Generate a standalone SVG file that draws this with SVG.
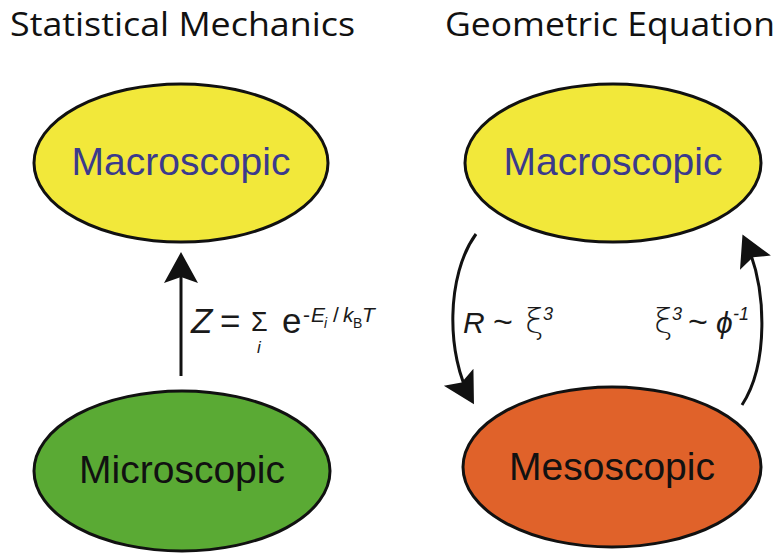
<svg xmlns="http://www.w3.org/2000/svg" width="780" height="554" viewBox="0 0 780 554">
<style>
.title{font-family:"Open Sans","Noto Sans",sans-serif;font-size:32px;fill:#111}
.node{stroke:#111;stroke-width:3}
.lbl{font-family:"Liberation Sans",Arial,sans-serif;font-size:39px;text-anchor:middle}
.eq{font-family:"Liberation Sans",Arial,sans-serif;fill:#1a1a1a}
.it{font-style:italic}
.xi{font-family:"DejaVu Sans","Liberation Sans",sans-serif;font-weight:200;font-size:34px}
.conn{fill:none;stroke:#111;stroke-width:3}
</style>
<defs>
<marker id="ah" markerUnits="userSpaceOnUse" markerWidth="40" markerHeight="40" viewBox="-30 -20 40 40" refX="0" refY="0" orient="auto" overflow="visible">
<path d="M6,0 L-25,-17 L-19,0 L-25,17 Z" fill="#111"/>
</marker>
</defs>
<rect width="780" height="554" fill="#fff"/>
<text class="title" x="10" y="36" textLength="345" lengthAdjust="spacingAndGlyphs">Statistical Mechanics</text>
<text class="title" x="445" y="36" textLength="330" lengthAdjust="spacingAndGlyphs">Geometric Equation</text>

<g id="connectors">
<line class="conn" x1="181" y1="376" x2="181" y2="258" marker-end="url(#ah)"/>
<path class="conn" d="M476,234 C446,275 446,355 471,399" marker-end="url(#ah)"/>
<path class="conn" d="M742,405 C768,365 768,290 745,240" marker-end="url(#ah)"/>
</g>

<g id="macro-left">
<ellipse class="node" cx="181" cy="163" rx="147" ry="79" fill="#f2e83a"/>
<text class="lbl" x="181" y="175" fill="#3b3a8c">Macroscopic</text>
</g>
<g id="micro">
<ellipse class="node" cx="182" cy="471" rx="148" ry="80" fill="#5aaa34"/>
<text class="lbl" x="182" y="483" fill="#111">Microscopic</text>
</g>
<g id="macro-right">
<ellipse class="node" cx="613" cy="163" rx="148" ry="79" fill="#f2e83a"/>
<text class="lbl" x="613" y="175" fill="#3b3a8c">Macroscopic</text>
</g>
<g id="meso">
<ellipse class="node" cx="612" cy="467" rx="149" ry="80" fill="#e0622a"/>
<text class="lbl" x="612" y="480" fill="#111">Mesoscopic</text>
</g>

<g id="eq-left" class="eq">
<text class="it" x="191" y="333" font-size="35">Z</text>
<text x="220" y="333" font-size="35">=</text>
<text x="251" y="331" font-size="27">Σ</text>
<text class="it" x="257" y="353" font-size="17">i</text>
<text x="282" y="333" font-size="35">e</text>
<text x="303" y="322" font-size="21">-</text>
<text class="it" x="311" y="322" font-size="21">E</text>
<text class="it" x="324" y="328" font-size="14">i</text>
<text x="333" y="322" font-size="21">/</text>
<text class="it" x="343" y="322" font-size="21">k</text>
<text x="353" y="328" font-size="14">B</text>
<text class="it" x="362" y="322" font-size="21">T</text>
</g>

<g id="eq-right1" class="eq">
<text class="it" x="463" y="333" font-size="30">R</text>
<text x="493" y="333" font-size="34">~</text>
<text class="xi" x="525" y="333">ξ</text>
<text class="it" x="543" y="320" font-size="18">3</text>
</g>
<g id="eq-right2" class="eq">
<text class="xi" x="654" y="333">ξ</text>
<text class="it" x="672" y="320" font-size="18">3</text>
<text x="688" y="333" font-size="34">~</text>
<text class="it" x="716" y="333" font-size="30">ϕ</text>
<text class="it" x="733" y="320" font-size="18">-1</text>
</g>
</svg>
